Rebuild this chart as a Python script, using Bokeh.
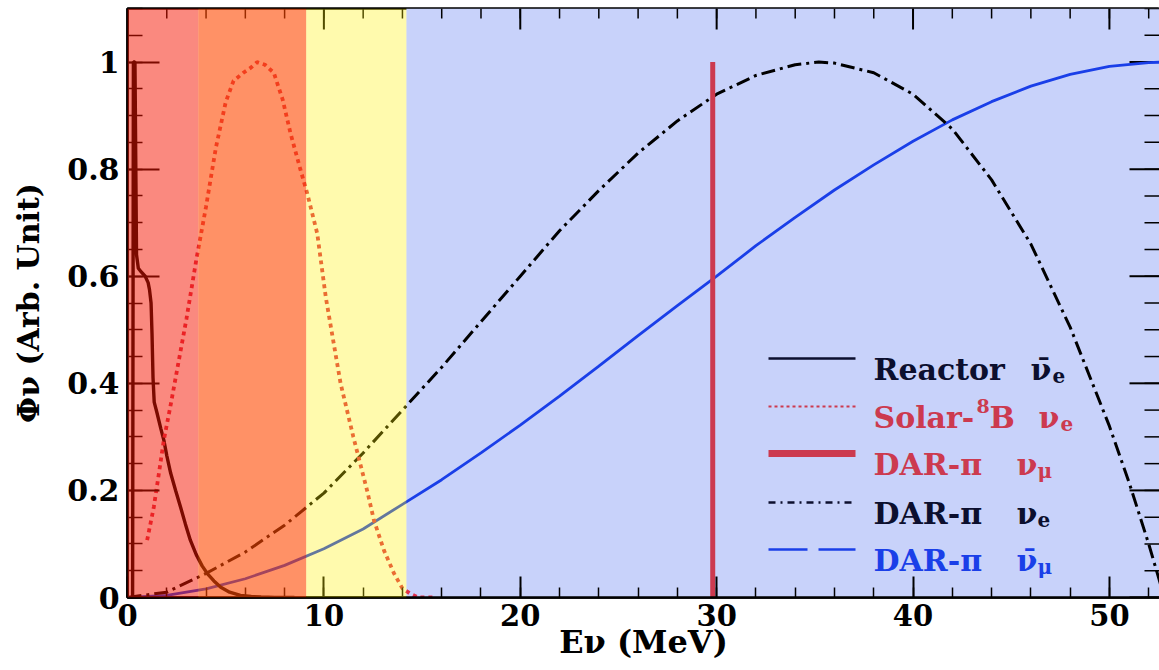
from bokeh.plotting import figure
from bokeh.models import Range1d, FixedTicker, BoxAnnotation, Label
from bokeh.embed import file_html
from bokeh.resources import INLINE

# ---------------- data ----------------
reactor_E = [0.26, 0.30, 0.38, 0.46, 0.55, 0.70, 0.90, 1.05, 1.12, 1.20, 1.25, 1.30, 1.36, 1.50, 1.70,
             1.85, 2.00, 2.20, 2.45, 2.70, 2.95, 3.20, 3.50, 3.80, 4.10, 4.40, 4.75, 5.20, 5.75, 6.30,
             6.80, 7.50, 8.50]
reactor_flux = [0.00, 1.00, 1.00, 0.64, 0.615, 0.608, 0.60, 0.588, 0.575, 0.55, 0.49, 0.41, 0.365, 0.345,
                0.315, 0.294, 0.265, 0.232, 0.20, 0.169, 0.137, 0.107, 0.080, 0.059, 0.043, 0.031, 0.019,
                0.010, 0.004, 0.002, 0.001, 0.0, 0.0]

solar_E = [1.0, 1.34, 1.6, 1.85, 2.2, 2.5, 3.0, 3.5, 4.0, 4.5, 5.0, 5.4, 5.9, 6.3, 6.6, 7.0, 7.45, 7.9,
           8.3, 8.8, 9.15, 9.66, 10.1, 10.85, 11.5, 12.2, 12.55, 13.06, 13.57, 14.0, 14.4, 14.8, 15.6]
solar_flux = [0.107, 0.169, 0.232, 0.294, 0.36, 0.42, 0.52, 0.63, 0.73, 0.84, 0.925, 0.965, 0.98, 0.99,
              1.0, 0.995, 0.98, 0.93, 0.867, 0.80, 0.755, 0.68, 0.56, 0.40, 0.30, 0.20, 0.144, 0.088,
              0.045, 0.017, 0.007, 0.0, 0.0]

numu_E = [29.8, 29.8]
numu_flux = [0.0, 1.0]

nue_E = [0, 2, 4, 6, 8, 10, 12, 14, 16, 18, 20, 22, 24, 26, 28, 30, 32, 34, 35.2, 36, 38, 40, 42, 44,
         46, 48, 50, 51, 52, 52.8]
nue_flux = [0, 0.01, 0.045, 0.085, 0.135, 0.195, 0.27, 0.35, 0.43, 0.515, 0.60, 0.685, 0.76, 0.83, 0.89,
            0.94, 0.975, 0.995, 1.0, 0.998, 0.98, 0.94, 0.875, 0.78, 0.66, 0.505, 0.32, 0.215, 0.10, 0.0]

numubar_E = [0, 2, 4, 6, 8, 10, 12, 14, 16, 18, 20, 22, 24, 26, 28, 30, 32, 34, 36, 38, 40, 42, 44, 46,
             48, 50, 52, 52.8]
numubar_flux = [0, 0.004, 0.016, 0.035, 0.06, 0.091, 0.128, 0.174, 0.22, 0.27, 0.322, 0.376, 0.432,
                0.489, 0.545, 0.60, 0.657, 0.71, 0.761, 0.808, 0.852, 0.892, 0.926, 0.955, 0.977, 0.992,
                0.999, 1.0]

band_left = [0.0, 3.6, 9.1, 14.2]
band_right = [3.6, 9.1, 14.2, None]

x_major = [0, 10, 20, 30, 40, 50]
x_labels = ["0", "10", "20", "30", "40", "50"]
x_minor = list(range(0, 54, 2))
y_major = [0.0, 0.2, 0.4, 0.6, 0.8, 1.0]
y_labels = ["0", "0.2", "0.4", "0.6", "0.8", "1"]
y_minor = [round(0.05 * i, 2) for i in range(0, 23)]

x_title = "E\u03bd (MeV)"
y_title = "\u03a6\u03bd (Arb. Unit)"

# ---------------- layout ----------------
FIG_W, FIG_H = 1159, 670
FRAME_L, FRAME_R, FRAME_T, FRAME_B = 127, 1159, 8, 597   # canvas pixels
X_END, Y_END = 52.55, 1.1


def X(px):
    return (px - FRAME_L) / (FRAME_R - FRAME_L) * X_END


def Y(py):
    return (FRAME_B - py) / (FRAME_B - FRAME_T) * Y_END


def DX(n):  # pixel length -> data length (x)
    return n / (FRAME_R - FRAME_L) * X_END


def DY(n):  # pixel length -> data length (y)
    return n / (FRAME_B - FRAME_T) * Y_END


FONT = "DejaVu Serif"
NAVY = "#0c0f2e"
CRIMSON = "#cc3a4f"
BLUE = "#1a3fe8"

p = figure(width=FIG_W, height=FIG_H, x_range=Range1d(0, X_END), y_range=Range1d(0, Y_END),
           output_backend="svg", toolbar_location=None,
           min_border_left=FRAME_L, min_border_right=FIG_W - FRAME_R, min_border_top=FRAME_T,
           min_border_bottom=FIG_H - FRAME_B)
p.grid.visible = False
p.outline_line_color = "black"
p.outline_line_width = 2.5
p.background_fill_color = "white"
p.border_fill_color = "white"

# ---------------- axes ----------------
xt = FixedTicker(ticks=x_major, minor_ticks=x_minor)
yt = FixedTicker(ticks=y_major, minor_ticks=y_minor)


def style_axis(ax, tick_major, tick_minor, size):
    ax.major_tick_in = tick_major
    ax.major_tick_out = 0
    ax.minor_tick_in = tick_minor
    ax.minor_tick_out = 0
    ax.axis_line_width = 2.5
    ax.axis_line_color = "black"
    ax.major_tick_line_width = 2
    ax.minor_tick_line_width = 1.5
    ax.major_tick_line_color = "black"
    ax.minor_tick_line_color = "black"
    ax.major_label_text_font = FONT
    ax.major_label_text_font_style = "bold"
    ax.major_label_text_font_size = size
    ax.major_label_text_color = "black"
    ax.axis_label_text_font = FONT
    ax.axis_label_text_font_style = "bold"
    ax.axis_label_text_color = "black"


xa = p.xaxis[0]
xa.ticker = xt
style_axis(xa, 21, 10, "29px")
xa.major_label_standoff = 6
xa.major_label_overrides = {v: s for v, s in zip(x_major, x_labels)}
xa.axis_label = x_title
xa.axis_label_text_font_size = "32px"
xa.axis_label_standoff = -6

ya = p.yaxis[0]
ya.ticker = yt
style_axis(ya, 32, 15, "30px")
ya.major_label_standoff = 8
ya.major_label_overrides = {v: s for v, s in zip(y_major, y_labels)}
ya.axis_label = y_title
ya.axis_label_text_font_size = "30px"
ya.axis_label_standoff = 18

# mirrored ticks on the top and right frame edges
p.segment(x0=x_minor, y0=[Y_END] * len(x_minor), x1=x_minor, y1=[Y_END - DY(10)] * len(x_minor),
          line_color="black", line_width=1.5)
p.segment(x0=x_major, y0=[Y_END] * len(x_major), x1=x_major, y1=[Y_END - DY(21)] * len(x_major),
          line_color="black", line_width=2)
p.segment(x0=[X_END] * len(y_minor), y0=y_minor, x1=[X_END - DX(15)] * len(y_minor), y1=y_minor,
          line_color="black", line_width=1.5)
p.segment(x0=[X_END] * len(y_major), y0=y_major, x1=[X_END - DX(30)] * len(y_major), y1=y_major,
          line_color="black", line_width=2)

# ---------------- background band (under the curves) ----------------
p.add_layout(BoxAnnotation(left=band_left[3], right=band_right[3], fill_color="#c8d2fa", fill_alpha=1.0,
                           line_color=None, level="underlay"))

# ---------------- curves ----------------
p.line(numubar_E, numubar_flux, line_color=BLUE, line_width=2.8)
p.line(nue_E, nue_flux, line_color="black", line_width=3, line_dash="14 5 3 5")
p.line(reactor_E, reactor_flux, line_color="black", line_width=3.4)
p.line(solar_E, solar_flux, line_color="#e0304a", line_width=3.8, line_dash="4 4")
p.line(numu_E, numu_flux, line_color=CRIMSON, line_width=5)


def lab(px, py, text, size, color="black"):
    p.add_layout(Label(x=X(px), y=Y(py), text=text, text_font=FONT, text_font_style="bold",
                       text_font_size=size, text_color=color, text_align="left",
                       text_baseline="alphabetic"))


# ---------------- legend ----------------
rows = [358, 406, 453, 502, 549]
LX0, LX1 = 768, 855
p.line([X(LX0), X(LX1)], [Y(rows[0])] * 2, line_color=NAVY, line_width=2.5)
p.line([X(LX0), X(LX1)], [Y(rows[1])] * 2, line_color=CRIMSON, line_width=2, line_dash="3 3")
p.line([X(LX0), X(LX1)], [Y(rows[2])] * 2, line_color=CRIMSON, line_width=7)
p.line([X(LX0), X(LX1)], [Y(rows[3])] * 2, line_color=NAVY, line_width=2.5, line_dash="7 5 2 5")
p.line([X(LX0), X(LX1)], [Y(rows[4])] * 2, line_color=BLUE, line_width=2.5, line_dash="39 11")

b = [r + 11 for r in rows]
lab(873, b[0], "Reactor", "30px", NAVY)
lab(1030, b[0], "\u03bd\u0304", "30px", NAVY)
lab(1052, b[0] + 6, "e", "20px", NAVY)

lab(873, b[1], "Solar-", "30px", CRIMSON)
lab(976, b[1] - 12, "8", "19px", CRIMSON)
lab(989, b[1], "B", "30px", CRIMSON)
lab(1038, b[1], "\u03bd", "30px", CRIMSON)
lab(1060, b[1] + 6, "e", "20px", CRIMSON)

lab(873, b[2], "DAR-\u03c0", "30px", CRIMSON)
lab(1016, b[2], "\u03bd", "30px", CRIMSON)
lab(1037, b[2] + 6, "\u03bc", "20px", CRIMSON)

lab(873, b[3], "DAR-\u03c0", "30px", NAVY)
lab(1016, b[3], "\u03bd", "30px", NAVY)
lab(1037, b[3] + 6, "e", "20px", NAVY)

lab(873, b[4], "DAR-\u03c0", "30px", BLUE)
lab(1016, b[4], "\u03bd\u0304", "30px", BLUE)
lab(1037, b[4] + 6, "\u03bc", "20px", BLUE)

# ---------------- translucent bands over the curves (added last) ----------------
overlay_colors = [(245, 20, 0), (255, 72, 0), (255, 240, 0)]
overlay_alpha = [0.5, 0.6, 0.32]
for i in range(3):
    p.add_layout(BoxAnnotation(left=band_left[i], right=band_right[i], fill_color=overlay_colors[i],
                               fill_alpha=overlay_alpha[i], line_color=None, level="annotation"))

open("out.html", "w").write(file_html(p, INLINE))
